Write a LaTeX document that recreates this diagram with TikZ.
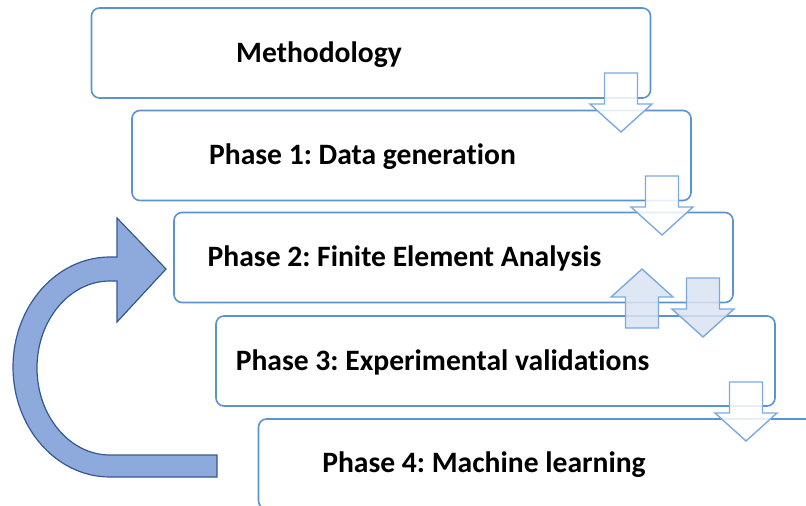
\documentclass[tikz,border=0pt]{standalone}
\usepackage{fontspec}
\setmainfont{Carlito}[Ligatures=NoCommon]
\usepackage{tikz}
\usetikzlibrary{positioning}
\definecolor{boxline}{RGB}{91,146,208}
\definecolor{arrline}{RGB}{122,170,222}
\definecolor{arrfill}{RGB}{218,227,243}
\definecolor{loopfill}{RGB}{142,169,219}
\definecolor{loopline}{RGB}{52,88,148}
\frenchspacing

\tikzset{
	phasebox/.style={draw=boxline, line width=1.6pt, rounded corners=8pt, fill=white,
		minimum width=559pt, minimum height=90pt, inner sep=0pt},
	phaselbl/.style={font=\fontsize{29.6}{35}\selectfont\bfseries, inner sep=0pt},
	hollowarrow/.style={draw=arrline, line width=1.4pt, fill=white, fill opacity=0.85},
	filledarrow/.style={draw=arrline, line width=1.4pt, fill=arrfill, fill opacity=0.85},
	pics/blockdown/.style={code={
		\path[pic actions] (0,0) -- (-31,-28) -- (-16.5,-28) -- (-16.5,-59)
			-- (16.5,-59) -- (16.5,-28) -- (31,-28) -- cycle;
	}}
}

\begin{document}
\begin{tikzpicture}[x=1pt, y=-1pt]
			\useasboundingbox (0,0) rectangle (806,506);
			\clip (0,0) rectangle (806,506);
			
			% phase boxes
			\node[phasebox] (meth) at (371,53)    {};
			\node[phasebox] (ph1)  at (411.5,155.5) {};
			\node[phasebox] (ph2)  at (453.5,257.5) {};
			\node[phasebox] (ph3)  at (495.5,361)   {};
			\node[phasebox] (ph4)  at (538,464)     {};
			
			% box labels
			\node[phaselbl] (methlbl) at ([xshift=-52pt, yshift=-2pt]meth.center) {Methodology};
			\node[phaselbl] (ph1lbl)  at ([xshift=-49pt, yshift=-1pt]ph1.center)  {Phase 1: Data generation};
			\node[phaselbl] (ph2lbl)  at ([xshift=-49pt, yshift=-1pt]ph2.center)  {Phase 2: Finite Element Analysis};
			\node[phaselbl] (ph3lbl)  at ([xshift=-53pt, yshift=-1pt]ph3.center)  {Phase 3: Experimental validations};
			\node[phaselbl] (ph4lbl)  at ([xshift=-54pt, yshift=-1pt]ph4.center)  {Phase 4: Machine learning};
			
			% step arrows
			\pic[hollowarrow] at (621,132) {blockdown};
			\pic[hollowarrow] at (662,235) {blockdown};
			\pic[filledarrow] at (703,337) {blockdown};
			\pic[filledarrow, rotate=180] at (642,269) {blockdown};
			\pic[hollowarrow] at (746,441) {blockdown};
			
			% feedback loop
			\draw[loopline, fill=loopfill, line width=1.2pt, line join=miter]
				(217,455) -- (110,455)
				arc[start angle=90, end angle=270, x radius=73, y radius=87]
				-- (117,281) -- (117,322) -- (166,269) -- (117,218) -- (117,257) -- (110,257)
				arc[start angle=270, end angle=90, x radius=97, y radius=110]
				-- (217,477) -- cycle;
		\end{tikzpicture}
\end{document}
